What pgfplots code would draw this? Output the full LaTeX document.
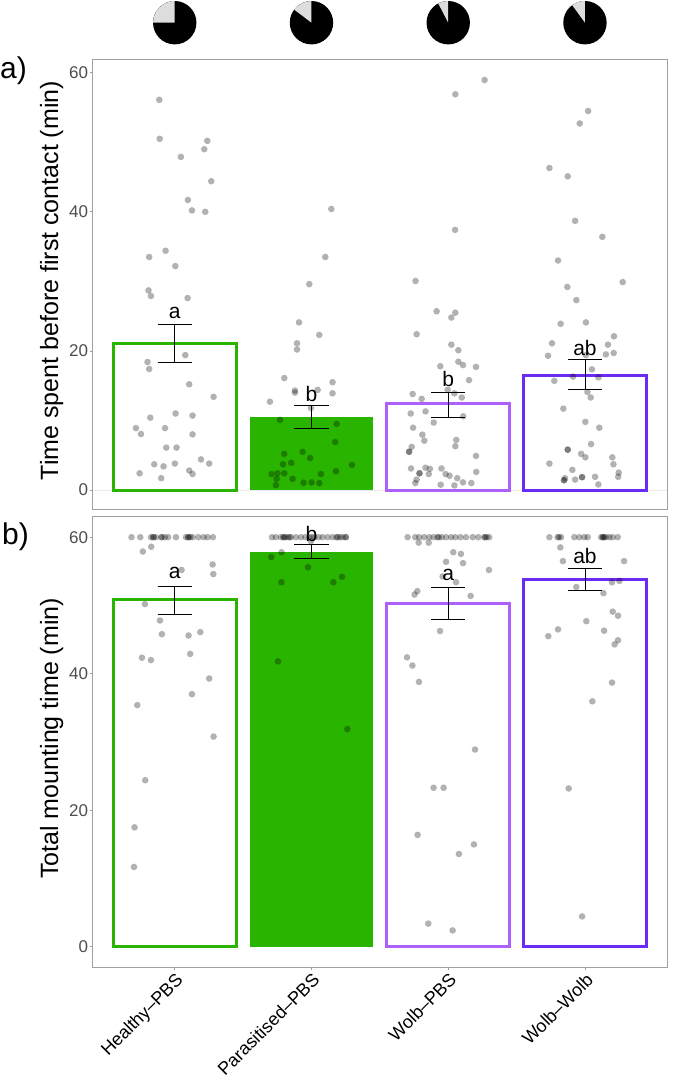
\documentclass[border=0pt]{standalone}
\usepackage{pgfplots}
\pgfplotsset{compat=1.18}
\usepackage{pgfplotstable}
\usepackage{fontspec}
\setmainfont{Liberation Sans}
\definecolor{cgreen}{RGB}{41,180,0}
\definecolor{clpur}{RGB}{176,96,250}
\definecolor{cdpur}{RGB}{108,42,245}
\definecolor{framegray}{RGB}{160,160,160}
\definecolor{ticktext}{RGB}{77,77,77}
\definecolor{piegray}{RGB}{221,221,221}

% Panel a: jittered raw points (x = group position + jitter, y = minutes)
\pgfplotstableread{
x y
0.887 56.1
0.890 50.5
1.045 47.9
1.216 49.0
1.238 50.2
1.267 44.4
1.096 41.7
1.126 40.2
1.223 40.0
0.813 33.5
0.933 34.4
1.004 32.2
0.808 28.7
0.826 27.9
1.094 27.6
1.077 19.4
0.801 18.4
0.813 17.4
1.106 15.2
1.284 13.4
1.006 11.0
1.130 10.7
0.821 10.4
0.716 8.9
0.753 8.05
0.929 8.9
1.130 8.0
0.938 6.1
1.013 6.1
1.192 4.4
1.252 3.8
0.850 3.7
0.918 3.4
1.001 3.8
0.743 2.4
1.106 2.8
1.130 2.3
0.901 1.7
2.145 40.4
2.101 33.5
1.984 29.6
1.909 24.1
2.057 22.3
1.894 21.1
1.894 20.2
1.801 16.1
2.154 15.5
1.879 14.3
2.045 14.4
2.154 13.9
1.879 14.0
1.696 12.7
1.996 11.8
1.770 10.1
2.184 9.5
2.174 6.9
1.935 5.5
1.801 5.2
1.990 4.6
1.792 3.7
1.852 3.9
2.179 2.7
1.708 2.3
1.752 2.4
1.801 2.4
2.069 2.3
1.745 1.6
1.862 1.6
1.942 1.05
2.001 1.1
2.057 1.0
1.740 0.7
2.296 3.6
3.266 58.95
3.052 56.9
3.050 37.4
2.761 30.05
2.915 25.7
3.052 25.5
3.023 24.8
2.769 22.4
3.023 20.9
3.074 20.1
3.074 18.45
3.108 17.97
2.942 17.8
3.203 17.7
3.152 15.8
2.740 13.8
2.806 13.1
2.996 14.4
3.045 13.9
3.099 13.3
2.726 11.0
2.834 11.3
2.894 9.7
3.110 10.6
2.743 8.96
2.811 7.96
2.825 7.1
3.059 7.2
3.052 6.3
2.733 6.2
3.203 4.9
2.714 5.5
2.714 5.5
2.728 3.1
2.834 3.2
2.866 3.05
2.951 3.1
2.790 2.4
2.790 2.4
2.858 2.3
2.981 2.3
3.010 2.05
3.066 1.7
3.205 2.6
2.769 1.5
2.759 1.0
3.108 1.1
3.169 1.0
2.945 0.76
3.045 0.66
4.023 54.5
3.962 52.7
3.740 46.3
3.874 45.1
3.928 38.7
4.127 36.4
3.803 33.0
4.276 29.9
3.871 29.2
3.937 27.3
3.822 23.9
4.007 24.1
4.212 22.1
3.759 21.1
3.730 19.3
4.168 20.9
4.153 19.5
4.210 19.7
4.007 19.4
4.051 17.35
3.776 15.7
3.913 16.3
4.098 16.2
4.018 14.1
4.042 13.3
3.842 11.7
4.003 9.8
4.105 8.96
4.045 6.6
3.874 5.8
3.874 5.8
3.972 5.2
4.003 4.7
4.200 4.7
3.740 3.8
4.208 3.7
3.908 2.9
4.247 2.5
4.243 1.9
3.979 1.85
3.979 1.85
4.074 1.9
3.928 1.5
3.847 1.4
3.847 1.4
3.854 1.7
4.098 0.8
}\ptsA

% Panel b: jittered raw points
\pgfplotstableread{
x y
0.767 57.9
0.828 58.6
1.277 56.0
1.282 54.6
1.050 55.2
0.782 50.2
0.892 47.8
0.906 45.8
1.101 45.6
1.187 46.1
1.113 42.9
0.760 42.35
0.826 42.0
1.252 39.3
1.126 37.0
0.726 35.4
1.284 30.8
0.784 24.4
0.706 17.5
0.702 11.7
0.684 60
0.748 60
0.826 60
0.843 60
0.845 60
0.862 60
0.903 60
0.905 60
0.928 60
0.952 60
1.009 60
1.082 60
1.099 60
1.100 60
1.113 60
1.130 60
1.172 60
1.211 60
1.240 60
1.279 60
1.706 57.1
1.781 57.8
1.974 55.6
1.780 53.4
2.160 53.4
2.223 54.2
1.755 41.8
2.262 31.9
1.996 59.4
1.711 60
1.740 60
1.777 60
1.794 60
1.800 60
1.808 60
1.828 60
1.840 60
1.850 60
1.887 60
1.923 60
1.955 60
1.984 60
2.000 60
2.021 60
2.052 60
2.081 60
2.118 60
2.154 60
2.184 60
2.190 60
2.208 60
2.227 60
2.250 60
2.252 60
2.784 59.2
2.857 59.2
3.037 57.8
3.093 57.55
2.984 56.4
3.108 56.2
3.298 55.2
2.959 54.25
3.057 53.4
2.774 52.1
2.754 51.6
3.164 51.4
2.940 46.25
2.699 42.4
2.738 41.2
2.786 38.8
3.196 28.9
2.893 23.3
2.966 23.3
2.776 16.4
3.188 15.0
3.078 13.6
2.854 3.4
3.032 2.4
2.703 60
2.759 60
2.788 60
2.825 60
2.862 60
2.893 60
2.922 60
2.930 60
2.952 60
2.984 60
3.021 60
3.052 60
3.089 60
3.130 60
3.179 60
3.220 60
3.264 60
3.270 60
3.281 60
3.300 60
3.820 58.5
3.839 56.5
4.286 56.5
4.198 53.4
4.252 53.6
3.937 52.7
4.135 51.8
4.203 49.1
4.242 48.5
4.010 47.7
3.803 46.5
3.732 45.5
4.140 46.3
4.242 44.9
4.217 44.3
4.198 38.7
4.054 35.96
3.881 23.2
3.979 4.45
3.740 60
3.800 60
3.810 60
3.825 60
3.922 60
3.959 60
3.995 60
4.020 60
4.118 60
4.130 60
4.135 60
4.140 60
4.155 60
4.179 60
4.203 60
4.240 60
}\ptsB

\pgfplotsset{
  myaxis/.style={
    scale only axis, width=574.3pt, xmin=0.4, xmax=4.6,
    axis line style={framegray, line width=1pt},
    tick style={framegray, line width=0.8pt},
    major tick length=3pt, tick align=outside,
    ytick pos=left, xtick pos=bottom,
    ytick={0,20,40,60},
    yticklabel style={font=\fontsize{17}{20}\selectfont, text=ticktext, inner sep=1.5pt},
    /pgf/number format/assume math mode=true,
    clip=false,
    every axis y label/.style={at={(axis description cs:-0.0714,0.508)}, rotate=90, anchor=center, font=\fontsize{25}{30}\selectfont},
  },
  pts/.style={only marks, mark=*, mark size=3.3pt, mark options={draw opacity=0, fill=black, fill opacity=0.3}},
  errb/.style={black, line width=0.9pt, unbounded coords=jump, mark=none},
  barwhite/.style={ybar, bar shift=0pt, bar width=0.9, fill=white, line width=3pt},
}
\tikzset{lett/.style={font=\fontsize{21}{24}\selectfont, inner sep=0pt, anchor=center}}

\newcommand{\pie}[3]{%
  \fill[black] (axis cs:#1,#2) circle[radius=21.7pt];
  \fill[piegray] (axis cs:#1,#2) -- ++(90:21.7pt) arc[start angle=90, delta angle=#3*3.6, radius=21.7pt] -- cycle;
}

\begin{document}
\begin{tikzpicture}
\useasboundingbox (0pt,0pt) rectangle (672pt,-1083pt);

% ---------------- panel a ----------------
\begin{axis}[myaxis, at={(92.7pt,-509pt)}, anchor=south west,
  height=449.5pt, ymin=-2.73, ymax=61.9, xtick=\empty,
  ylabel={Time spent before first contact (min)}]
  \draw[black!8, line width=0.8pt] (axis cs:0.4,0) -- (axis cs:4.6,0);
  \addplot[barwhite, draw=cgreen] coordinates {(1,21.1)};
  \addplot[ybar, bar shift=0pt, bar width=0.9, fill=cgreen, draw=none] coordinates {(2,10.5)};
  \addplot[barwhite, draw=clpur] coordinates {(3,12.4)};
  \addplot[barwhite, draw=cdpur] coordinates {(4,16.5)};
  \addplot[pts] table[x=x, y=y] {\ptsA};
  % error bars: mean +- SE (caps, stems)
  \addplot[errb] coordinates {
    (0.875,23.8) (1.125,23.8) (nan,nan) (1,23.8) (1,18.3) (nan,nan) (0.875,18.3) (1.125,18.3) (nan,nan)
    (1.875,12.2) (2.125,12.2) (nan,nan) (2,12.2) (2,8.8) (nan,nan) (1.875,8.8) (2.125,8.8) (nan,nan)
    (2.875,14.1) (3.125,14.1) (nan,nan) (3,14.1) (3,10.5) (nan,nan) (2.875,10.5) (3.125,10.5) (nan,nan)
    (3.875,18.8) (4.125,18.8) (nan,nan) (4,18.8) (4,14.5) (nan,nan) (3.875,14.5) (4.125,14.5)
  };
  \node[lett] at (axis cs:1,25.5) {a};
  \node[lett] at (axis cs:2,13.8) {b};
  \node[lett] at (axis cs:3,16.0) {b};
  \node[lett] at (axis cs:4,20.4) {ab};
  % proportion pies above each group
  \pie{1}{67.19}{25}
  \pie{2}{67.19}{14.7}
  \pie{3}{67.19}{7.6}
  \pie{4}{67.19}{10}
\end{axis}

% ---------------- panel b ----------------
\begin{axis}[myaxis, at={(92.7pt,-967.3pt)}, anchor=south west,
  height=450.6pt, ymin=-3, ymax=63,
  xtick={1,2,3,4},
  xticklabels={Healthy–PBS, Parasitised–PBS, Wolb–PBS, Wolb–Wolb},
  xticklabel style={font=\fontsize{18}{21}\selectfont, rotate=45, anchor=north east, inner sep=1pt},
  ylabel={Total mounting time (min)}]
  \addplot[barwhite, draw=cgreen] coordinates {(1,50.9)};
  \addplot[ybar, bar shift=0pt, bar width=0.9, fill=cgreen, draw=none] coordinates {(2,57.9)};
  \addplot[barwhite, draw=clpur] coordinates {(3,50.35)};
  \addplot[barwhite, draw=cdpur] coordinates {(4,53.8)};
  \addplot[pts] table[x=x, y=y] {\ptsB};
  \addplot[errb] coordinates {
    (0.875,52.8) (1.125,52.8) (nan,nan) (1,52.8) (1,48.7) (nan,nan) (0.875,48.7) (1.125,48.7) (nan,nan)
    (1.875,59.0) (2.125,59.0) (nan,nan) (2,59.0) (2,56.9) (nan,nan) (1.875,56.9) (2.125,56.9) (nan,nan)
    (2.875,52.6) (3.125,52.6) (nan,nan) (3,52.6) (3,48.0) (nan,nan) (2.875,48.0) (3.125,48.0) (nan,nan)
    (3.875,55.4) (4.125,55.4) (nan,nan) (4,55.4) (4,52.2) (nan,nan) (3.875,52.2) (4.125,52.2)
  };
  \node[lett] at (axis cs:1,54.7) {a};
  \node[lett] at (axis cs:2,60.5) {b};
  \node[lett] at (axis cs:3,54.4) {a};
  \node[lett] at (axis cs:4,57.2) {ab};
\end{axis}

\node[font=\fontsize{30}{36}\selectfont, anchor=west, inner sep=0pt] at (0pt,-71pt) {a)};
\node[font=\fontsize{30}{36}\selectfont, anchor=west, inner sep=0pt] at (2pt,-537pt) {b)};
\end{tikzpicture}
\end{document}
